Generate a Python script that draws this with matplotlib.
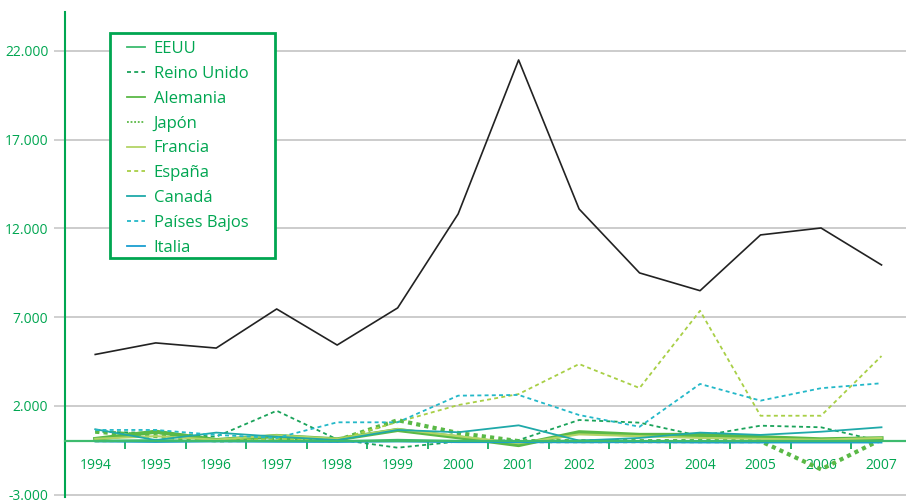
import matplotlib
matplotlib.use("Agg")
import matplotlib.pyplot as plt
from matplotlib.patches import Rectangle
from matplotlib.ticker import FuncFormatter, FixedLocator

plt.rcParams['font.family'] = ['Open Sans', 'DejaVu Sans']

years = list(range(1994, 2008))

total = [4900, 5550, 5260, 7460, 5430, 7520, 12810, 21480, 13090, 9490, 8490, 11630, 12020, 9940]
eeuu = [50, 80, 30, 60, 20, 100, 40, 0, 60, 30, 20, 10, 0, 20]
reino_unido = [550, 480, 270, 1730, 120, -350, 0, 80, 1210, 1060, 310, 890, 800, 0]
alemania = [140, 550, 80, 310, 120, 650, 240, -200, 520, 370, 370, 240, 120, 180]
japon = [550, 300, 60, 120, 60, 1200, 480, 20, 20, 20, 20, 20, -1570, 120]
francia = [150, 300, 100, 350, 150, 700, 300, -100, 400, 300, 200, 150, 100, 200]
espana = [0, 50, 30, 150, 100, 1100, 2050, 2670, 4360, 3010, 7360, 1450, 1450, 4810]
canada = [690, 80, 500, 270, 80, 650, 520, 910, 50, 200, 500, 370, 550, 800]
paises_bajos = [650, 650, 370, 200, 1080, 1080, 2580, 2620, 1490, 830, 3240, 2300, 3000, 3280]
italia = [0, -30, 0, -20, -30, 0, -40, -40, -50, -40, -60, -60, -60, -60]

green = '#00a651'
grid_gray = '#c8c8c8'

fig = plt.figure(figsize=(9.06, 5.01), dpi=100)
ax = fig.add_axes([65 / 906, 4 / 501, 841 / 906, 485 / 501])

ax.plot(years, total, color='#222222', lw=1.2, zorder=4)
series = [
    ('EEUU', eeuu, '#3dbb6e', '-', 1.3),
    ('Reino Unido', reino_unido, '#1aa35a', (0, (2.2, 1.8)), 1.3),
    ('Alemania', alemania, '#5ab946', '-', 3.0),
    ('Japón', japon, '#5ab946', (0, (1, 1)), 3.0),
    ('Francia', francia, '#b3d466', '-', 1.5),
    ('España', espana, '#a8cf45', (0, (2.2, 1.8)), 1.3),
    ('Canadá', canada, '#1fa9a9', '-', 1.3),
    ('Países Bajos', paises_bajos, '#23b8c8', (0, (2.2, 1.8)), 1.3),
    ('Italia', italia, '#1a9ed0', '-', 1.3),
]
handles = []
for name, vals, col, ls, lw in series:
    ax.plot(years, vals, color=col, ls=ls, lw=lw, zorder=3)
    h, = ax.plot([], [], color=col, ls=ls, lw=1.3, label=name)
    handles.append(h)

ax.set_xlim(1993.5, 2007.405)
ax.set_ylim(-3125, 24180)

yt = [-3000, 2000, 7000, 12000, 17000, 22000]
ax.set_yticks(yt)
ax.yaxis.set_major_formatter(FuncFormatter(lambda v, p: f"{v:,.0f}".replace(',', '.')))
ax.tick_params(axis='y', colors=grid_gray, length=8, width=1.2, labelsize=10,
               labelcolor=green, pad=4)
ax.yaxis.grid(True, color=grid_gray, lw=1.3)
ax.set_axisbelow(True)

ax.set_xticks(years)
ax.set_xticklabels([str(y) for y in years])
ax.xaxis.set_minor_locator(FixedLocator([y + 0.5 for y in years[:-1]]))
ax.tick_params(axis='x', which='major', length=0, labelsize=10, labelcolor=green, pad=12)
ax.tick_params(axis='x', which='minor', length=6, width=1.2, color=green, direction='out')

for s in ['top', 'right']:
    ax.spines[s].set_visible(False)
ax.spines['bottom'].set_position(('data', 0))
ax.spines['bottom'].set_color('#3dbb6e')
ax.spines['bottom'].set_linewidth(1.6)
ax.spines['bottom'].set_zorder(5)
ax.spines['left'].set_color(green)
ax.spines['left'].set_linewidth(1.5)

# legend box drawn separately so the padding matches the original
ax.add_patch(Rectangle((110 / 906, (501 - 258) / 501), 165 / 906, 225 / 501,
                       transform=fig.transFigure, facecolor='white',
                       edgecolor=green, lw=2, zorder=6, clip_on=False))
leg = ax.legend(handles=handles, loc='upper left', bbox_to_anchor=(0.0737, 0.940),
                borderaxespad=0, borderpad=0, fontsize=12, frameon=False,
                handlelength=1.1, handletextpad=0.5, labelspacing=0.53,
                labelcolor=green)
leg.set_zorder(7)

fig.savefig('out.png', dpi=100)
